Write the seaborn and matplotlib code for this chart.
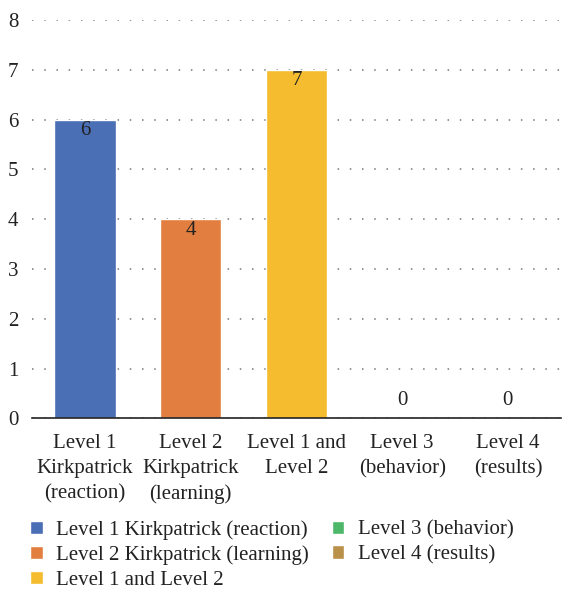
import pandas as pd
import matplotlib.pyplot as plt
import seaborn as sns

# data
categories = ["Level 1 Kirkpatrick (reaction)", "Level 2 Kirkpatrick (learning)",
              "Level 1 and Level 2", "Level 3 (behavior)", "Level 4 (results)"]
tick_labels = ["Level 1\nKirkpatrick\n(reaction)", "Level 2\nKirkpatrick\n(learning)",
               "Level 1 and\nLevel 2", "Level 3\n(behavior)", "Level 4\n(results)"]
counts = [6, 4, 7, 0, 0]
colors = ["#4A6FB5", "#E27F40", "#F4BC2E", "#4DB86A", "#BA914B"]

df = pd.DataFrame({"category": categories, "count": counts})

sns.set_style("white")
plt.rcParams["font.family"] = ["Liberation Serif", "DejaVu Serif"]
FS = 15

fig, ax = plt.subplots(figsize=(5.63, 5.90), dpi=100)
fig.subplots_adjust(left=0.057, right=0.996, bottom=0.291, top=0.966)

sns.barplot(data=df, x="category", y="count", hue="category", palette=colors,
            saturation=1, dodge=False, width=0.58, ax=ax, legend=True)

ax.set_ylim(0, 8)
ax.set_yticks(range(0, 9))
ax.yaxis.grid(True, linestyle=(0, (1, 7)), color="#777777", linewidth=1.1)
ax.set_axisbelow(True)
for s in ["top", "right", "left"]:
    ax.spines[s].set_visible(False)
ax.spines["bottom"].set_color("#222222")
ax.spines["bottom"].set_linewidth(1.2)
ax.set_xlim(-0.5, 4.5)
ax.set_xticks(range(len(tick_labels)))
ax.set_xticklabels(tick_labels, fontsize=FS, color="#222222", linespacing=1.45)
ax.tick_params(axis="y", labelsize=FS, colors="#222222", length=0, pad=10)
ax.tick_params(axis="x", length=0, pad=11)
ax.set_xlabel("")
ax.set_ylabel("")

# value labels
for i, v in enumerate(counts):
    if v > 0:
        ax.annotate(str(v), (i, v), xytext=(0, -1), textcoords="offset points",
                    ha="center", va="top", fontsize=FS, color="#222222")
    else:
        ax.annotate(str(v), (i, v), xytext=(0, 6), textcoords="offset points",
                    ha="center", va="bottom", fontsize=FS, color="#222222")

sns.move_legend(ax, "upper left", bbox_to_anchor=(-0.035, -0.213), ncol=2, frameon=False,
                title=None, fontsize=FS, handlelength=0.6, handleheight=0.6,
                handletextpad=0.65, columnspacing=1.1, labelspacing=0.27,
                borderpad=0.3, labelcolor="#222222")

fig.savefig("out.png", dpi=100)
